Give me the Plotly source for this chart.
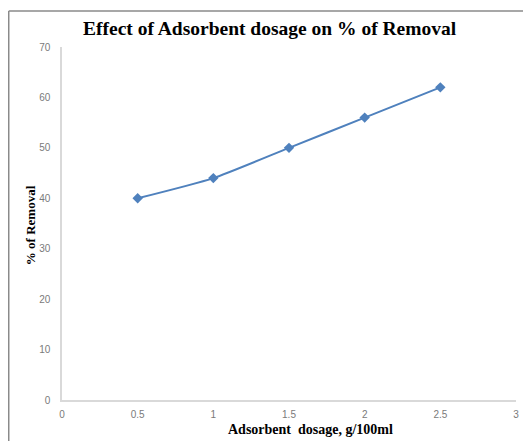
import plotly.graph_objects as go

dosage = [0.5, 1.0, 1.5, 2.0, 2.5]
removal = [40, 44, 50, 56, 62]
x_ticks = [0, 0.5, 1, 1.5, 2, 2.5, 3]
x_tick_labels = ["0", "0.5", "1", "1.5", "2", "2.5", "3"]
y_ticks = [0, 10, 20, 30, 40, 50, 60, 70]

# page body has an 8px margin, so the figure is shifted by 8px
OFF = 8
L, R, T, B = 62, 518, 47, 400  # plot area in reference pixels

def px(p):
    return (p - L) / (R - L)

def py(p):
    return (B - p) / (B - T)

fig = go.Figure()
fig.add_trace(go.Scatter(
    x=dosage, y=removal, mode="lines+markers",
    line=dict(color="#4f81bd", width=2, shape="spline", smoothing=0.6),
    marker=dict(symbol="diamond", size=8, color="#4f81bd"),
    showlegend=False,
))

tickfont = dict(family="Liberation Sans, Arial", size=10, color="#7a7a7a")
serif = "Liberation Serif, Times New Roman"
fig.update_layout(
    width=531 - OFF, height=441 - OFF,
    margin=dict(l=L - OFF, r=531 - R, t=T - OFF, b=441 - B),
    paper_bgcolor="white", plot_bgcolor="white",
    xaxis=dict(range=[0, 3], tickvals=x_ticks, ticktext=x_tick_labels,
               showgrid=False, zeroline=False, showline=True,
               linecolor="#d9d9d9", linewidth=1.5, ticks="outside", ticklen=4,
               tickcolor="rgba(0,0,0,0)", tickfont=tickfont),
    yaxis=dict(range=[0, 70], tickvals=y_ticks, showgrid=False, zeroline=False,
               showline=True, linecolor="#d9d9d9", linewidth=1.5,
               ticks="outside", ticklen=8, tickcolor="rgba(0,0,0,0)",
               tickfont=tickfont),
    shapes=[
        dict(type="line", xref="paper", yref="paper", x0=px(8.5), x1=px(8.5),
             y0=-0.3, y1=py(11), line=dict(color="#8a8a8a", width=1.5)),
        dict(type="line", xref="paper", yref="paper", x0=px(8.5), x1=1.2,
             y0=py(11), y1=py(11), line=dict(color="#8a8a8a", width=1.5)),
    ],
    annotations=[
        dict(text="<b>Effect of Adsorbent dosage on % of Removal</b>",
             xref="paper", yref="paper", x=px(271), y=py(28),
             showarrow=False, xanchor="center", yanchor="middle",
             font=dict(family=serif, size=19.5, color="black")),
        dict(text="<b>Adsorbent  dosage, g/100ml</b>",
             xref="paper", yref="paper", x=px(312), y=py(429),
             showarrow=False, xanchor="center", yanchor="middle",
             font=dict(family=serif, size=14, color="black")),
        dict(text="<b>% of Removal</b>", textangle=-90,
             xref="paper", yref="paper", x=px(30), y=py(225),
             showarrow=False, xanchor="center", yanchor="middle",
             font=dict(family=serif, size=13, color="black")),
    ],
)

fig.write_html("out.html")
